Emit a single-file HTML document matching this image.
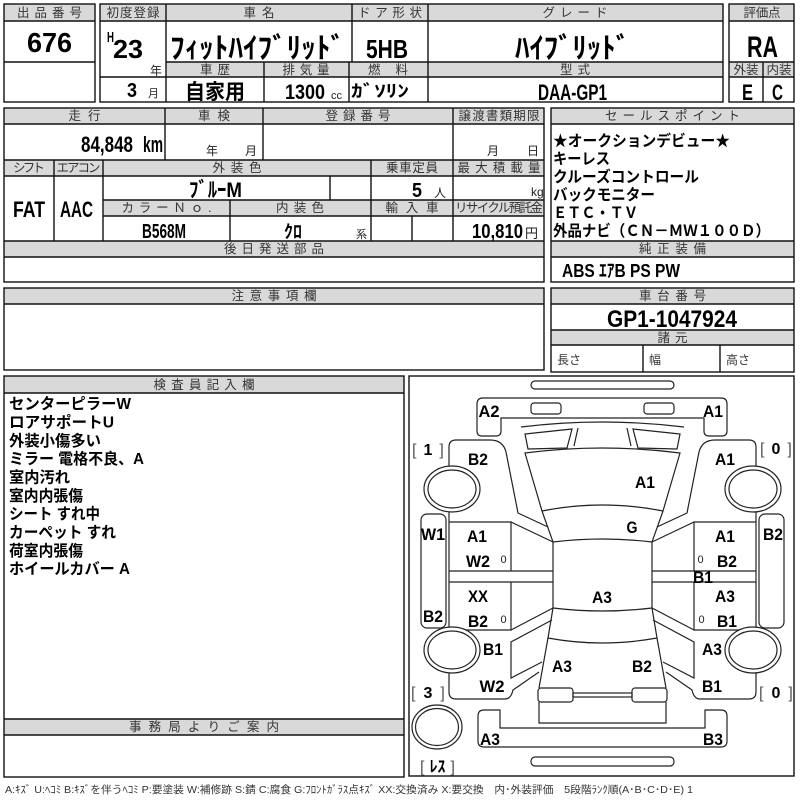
<!DOCTYPE html>
<html><head><meta charset="utf-8"><style>
html,body{margin:0;padding:0;background:#fff;}
svg{display:block}
text{font-family:"Liberation Sans","Noto Sans CJK JP",sans-serif;}
.h{font-size:12.5px;fill:#333;text-anchor:middle}
.b{font-weight:bold;fill:#000}
.ln{stroke:#111;stroke-width:1.4;fill:none}
.hd{fill:#d9d9d9}
.d{stroke:#222;stroke-width:1.2;fill:none}
.w{stroke:#222;stroke-width:1.2;fill:#fff}
.lb{font-weight:bold;font-size:17px;text-anchor:middle;fill:#000}
.z{font-size:11px;fill:#222;text-anchor:middle}
.br{font-size:16px;fill:#000}
.t{font-size:15.5px;font-weight:bold;fill:#000}
</style></head><body>
<svg xmlns="http://www.w3.org/2000/svg" width="800" height="800" viewBox="0 0 800 800">
<rect x="0" y="0" width="800" height="800" fill="#fff"/>

<!-- ===== TOP SECTION ===== -->
<rect class="hd" x="4" y="4" width="91" height="17"/>
<rect class="ln" x="4" y="4" width="91" height="98"/>
<path class="ln" d="M4 21H95M4 62H95"/>
<text class="h" x="49.5" y="17" textLength="65">出品番号</text>
<text class="b" x="49.5" y="52" font-size="28" text-anchor="middle" textLength="45" lengthAdjust="spacingAndGlyphs">676</text>

<rect class="hd" x="100" y="4" width="623" height="17"/>
<rect class="hd" x="166" y="62" width="557" height="15"/>
<rect class="ln" x="100" y="4" width="623" height="98"/>
<path class="ln" d="M100 21H723M166 62H723M100 77H723M166 4V102M352 4V62M349 62V102M428 4V102M264 62V102"/>
<text class="h" x="133" y="17" textLength="53">初度登録</text>
<text class="h" x="259" y="17" textLength="31">車 名</text>
<text class="h" x="390" y="17" textLength="64">ドア形状</text>
<text class="h" x="575" y="17" textLength="65">グ レ ー ド</text>
<text class="h" x="215" y="74" textLength="30">車 歴</text>
<text class="h" x="306" y="74" textLength="47">排 気 量</text>
<text class="h" x="388" y="74" textLength="40">燃 料</text>
<text class="h" x="575" y="74" textLength="30">型 式</text>

<text class="b" x="107" y="42" font-size="15" textLength="7" lengthAdjust="spacingAndGlyphs">H</text>
<text class="b" x="113" y="58" font-size="26" textLength="30" lengthAdjust="spacingAndGlyphs">23</text>
<text x="150" y="75" font-size="12" fill="#222">年</text>
<text class="b" x="127" y="97" font-size="20" textLength="10" lengthAdjust="spacingAndGlyphs">3</text>
<text x="148" y="97" font-size="11" fill="#222">月</text>
<text class="b" x="170" y="58" font-size="29" textLength="175" lengthAdjust="spacingAndGlyphs">ﾌｨｯﾄﾊｲﾌﾞﾘｯﾄﾞ</text>
<text class="b" x="366" y="58" font-size="26" textLength="42" lengthAdjust="spacingAndGlyphs">5HB</text>
<text class="b" x="515" y="58" font-size="29" textLength="115" lengthAdjust="spacingAndGlyphs">ﾊｲﾌﾞﾘｯﾄﾞ</text>
<text class="b" x="185" y="99" font-size="21" textLength="60" lengthAdjust="spacingAndGlyphs">自家用</text>
<text class="b" x="285" y="99" font-size="21" textLength="40" lengthAdjust="spacingAndGlyphs">1300</text>
<text x="331" y="99" font-size="11" fill="#222">cc</text>
<text class="b" x="351" y="97" font-size="17" textLength="58" lengthAdjust="spacingAndGlyphs">ｶﾞｿﾘﾝ</text>
<text class="b" x="538" y="100" font-size="22" textLength="69" lengthAdjust="spacingAndGlyphs">DAA-GP1</text>

<rect class="hd" x="729" y="4" width="65" height="17"/>
<rect class="hd" x="729" y="62" width="65" height="15"/>
<rect class="ln" x="729" y="4" width="65" height="98"/>
<path class="ln" d="M729 21H794M729 62H794M729 77H794M763 62V102"/>
<text class="h" x="762" y="17" textLength="37">評価点</text>
<text class="h" x="746" y="74" textLength="25">外装</text>
<text class="h" x="779" y="74" textLength="25">内装</text>
<text class="b" x="747" y="57" font-size="30" textLength="31" lengthAdjust="spacingAndGlyphs">RA</text>
<text class="b" x="742" y="100" font-size="22" textLength="11" lengthAdjust="spacingAndGlyphs">E</text>
<text class="b" x="772" y="100" font-size="22" textLength="11" lengthAdjust="spacingAndGlyphs">C</text>

<!-- ===== SECTION 2 ===== -->
<rect class="hd" x="4" y="108" width="540" height="16"/>
<rect class="hd" x="4" y="160" width="540" height="16"/>
<rect class="hd" x="103" y="200" width="441" height="16"/>
<rect class="hd" x="4" y="241" width="540" height="16"/>
<rect class="ln" x="4" y="108" width="540" height="174"/>
<path class="ln" d="M4 124H544M4 160H544M4 176H544M103 200H544M103 216H544M4 241H544M4 257H544M165 108V160M263 108V160M453 108V241M54 160V241M103 160V241M371 160V241M330 176V200M230 200V241M412 216V241"/>
<text class="h" x="84.5" y="120" textLength="32">走 行</text>
<text class="h" x="214" y="120" textLength="32">車 検</text>
<text class="h" x="358" y="120" textLength="65">登 録 番 号</text>
<text class="h" x="499" y="120" textLength="81">譲渡書類期限</text>
<text class="b" x="81" y="152" font-size="22" textLength="52" lengthAdjust="spacingAndGlyphs">84,848</text>
<text class="b" x="143" y="152" font-size="22" textLength="20" lengthAdjust="spacingAndGlyphs">km</text>
<text x="206" y="155" font-size="12" fill="#222">年</text>
<text x="245" y="155" font-size="12" fill="#222">月</text>
<text x="487" y="155" font-size="12" fill="#222">月</text>
<text x="527" y="155" font-size="12" fill="#222">日</text>

<text class="h" x="29" y="172" textLength="32">シフト</text>
<text class="h" x="78.5" y="172" textLength="44">エアコン</text>
<text class="h" x="237" y="172" textLength="49">外 装 色</text>
<text class="h" x="412" y="172" textLength="52">乗車定員</text>
<text class="h" x="499" y="172" textLength="83">最大積載量</text>
<text class="b" x="13" y="217" font-size="22" textLength="32" lengthAdjust="spacingAndGlyphs">FAT</text>
<text class="b" x="60" y="217" font-size="22" textLength="33" lengthAdjust="spacingAndGlyphs">AAC</text>
<text class="b" x="189" y="197" font-size="21" textLength="53" lengthAdjust="spacingAndGlyphs">ﾌﾞﾙｰM</text>
<text class="b" x="412" y="197" font-size="20" textLength="10" lengthAdjust="spacingAndGlyphs">5</text>
<text x="434" y="197" font-size="12" fill="#222">人</text>
<text x="531" y="196" font-size="12" fill="#222">kg</text>

<text class="h" x="166.5" y="212" textLength="90">カ ラ ー Ｎ ｏ .</text>
<text class="h" x="300" y="212" textLength="48">内 装 色</text>
<text class="h" x="412" y="212" textLength="53">輸 入 車</text>
<text class="h" x="499" y="212" textLength="88">リサイクル預託金</text>
<text class="b" x="142" y="238" font-size="20" textLength="44" lengthAdjust="spacingAndGlyphs">B568M</text>
<text class="b" x="284" y="238" font-size="18" textLength="18" lengthAdjust="spacingAndGlyphs">ｸﾛ</text>
<text x="356" y="238" font-size="11" fill="#222">系</text>
<text class="b" x="472" y="238" font-size="20" textLength="51" lengthAdjust="spacingAndGlyphs">10,810</text>
<text x="525" y="238" font-size="13" fill="#222">円</text>
<text class="h" x="274" y="253" textLength="100">後 日 発 送 部 品</text>

<!-- ===== SECTION 3 ===== -->
<rect class="hd" x="4" y="288" width="540" height="16"/>
<rect class="ln" x="4" y="288" width="540" height="82"/>
<path class="ln" d="M4 304H544"/>
<text class="h" x="274" y="300" textLength="85">注 意 事 項 欄</text>

<!-- ===== SECTION 4 LEFT ===== -->
<rect class="hd" x="4" y="376" width="400" height="17"/>
<rect class="hd" x="4" y="719" width="400" height="16"/>
<rect class="ln" x="4" y="376" width="400" height="401"/>
<path class="ln" d="M4 393H404M4 719H404M4 735H404"/>
<text class="h" x="204" y="389" textLength="101">検 査 員 記 入 欄</text>
<text class="h" x="204" y="731" textLength="150">事 務 局 よ り ご 案 内</text>
<text class="t" x="9" y="409" textLength="122" lengthAdjust="spacingAndGlyphs">センターピラーW</text>
<text class="t" x="9" y="427.5" textLength="105" lengthAdjust="spacingAndGlyphs">ロアサポートU</text>
<text class="t" x="9" y="446" textLength="92" lengthAdjust="spacingAndGlyphs">外装小傷多い</text>
<text class="t" x="9" y="464" textLength="135" lengthAdjust="spacingAndGlyphs">ミラー 電格不良、A</text>
<text class="t" x="9" y="482.5" textLength="61" lengthAdjust="spacingAndGlyphs">室内汚れ</text>
<text class="t" x="9" y="501" textLength="74" lengthAdjust="spacingAndGlyphs">室内内張傷</text>
<text class="t" x="9" y="519" textLength="91" lengthAdjust="spacingAndGlyphs">シート すれ中</text>
<text class="t" x="9" y="537.5" textLength="107" lengthAdjust="spacingAndGlyphs">カーペット すれ</text>
<text class="t" x="9" y="556" textLength="74" lengthAdjust="spacingAndGlyphs">荷室内張傷</text>
<text class="t" x="9" y="574" textLength="121" lengthAdjust="spacingAndGlyphs">ホイールカバー A</text>

<!-- ===== RIGHT COLUMN ===== -->
<rect class="hd" x="551" y="108" width="243" height="16"/>
<rect class="hd" x="551" y="241" width="243" height="16"/>
<rect class="ln" x="551" y="108" width="243" height="174"/>
<path class="ln" d="M551 124H794M551 241H794M551 257H794"/>
<text class="h" x="672.5" y="120" textLength="135">セ ー ル ス ポ イ ン ト</text>
<text class="h" x="672.5" y="253" textLength="67">純 正 装 備</text>
<text class="t" x="553" y="146" font-size="16" textLength="177" lengthAdjust="spacingAndGlyphs">★オークションデビュー★</text>
<text class="t" x="553" y="164" font-size="16" textLength="57" lengthAdjust="spacingAndGlyphs">キーレス</text>
<text class="t" x="553" y="182" font-size="16" textLength="146" lengthAdjust="spacingAndGlyphs">クルーズコントロール</text>
<text class="t" x="553" y="200" font-size="16" textLength="102" lengthAdjust="spacingAndGlyphs">バックモニター</text>
<text class="t" x="553" y="218" font-size="16" textLength="85" lengthAdjust="spacingAndGlyphs">ＥＴＣ・ＴＶ</text>
<text class="t" x="553" y="236" font-size="16" textLength="217" lengthAdjust="spacingAndGlyphs">外品ナビ（ＣＮ－ＭＷ１００Ｄ）</text>
<text class="b" x="562" y="277" font-size="18" textLength="118" lengthAdjust="spacingAndGlyphs">ABS ｴｱB PS PW</text>

<rect class="hd" x="551" y="288" width="243" height="16"/>
<rect class="hd" x="551" y="330" width="243" height="15"/>
<rect class="ln" x="551" y="288" width="243" height="84"/>
<path class="ln" d="M551 304H794M551 330H794M551 345H794M643 345V372M720 345V372"/>
<text class="h" x="672.5" y="300" textLength="67">車 台 番 号</text>
<text class="h" x="672.5" y="342" textLength="30">諸 元</text>
<text class="b" x="672" y="327" font-size="24" text-anchor="middle" textLength="130" lengthAdjust="spacingAndGlyphs">GP1-1047924</text>
<text x="557" y="364" font-size="12" fill="#333">長さ</text>
<text x="649" y="364" font-size="12" fill="#333">幅</text>
<text x="726" y="364" font-size="12" fill="#333">高さ</text>

<!-- ===== CAR DIAGRAM ===== -->
<rect class="ln" x="409" y="376" width="385" height="400"/>
<g class="d">
<rect x="531" y="381" width="143" height="8" rx="4"/>
<path d="M477 404Q477 398 483 398H721Q727 398 727 404V431Q727 436 722 436H709Q704 436 704 431V418H501V431Q501 436 496 436H482Q477 436 477 431Z"/>
<rect x="531" y="403" width="30" height="11" rx="3"/>
<rect x="644" y="403" width="30" height="11" rx="3"/>
<path d="M521 427Q602 417 684 427"/>
<path d="M525 434L572 429L567 448L528 449Z"/>
<path d="M680 434L633 429L638 448L677 449Z"/>
<path d="M578 428L574 446M627 428L631 446"/>
<path d="M525 453Q602 443 680 453L663 511Q602 499 542 511Z"/>
<path d="M542 511L553 542Q602 536 652 542L663 511"/>
<path d="M553 542V608M652 542V608"/>
<path d="M553 608Q602 614 652 608"/>
<path d="M553 608L548 638Q602 648 657 638L652 608"/>
<path d="M548 638L539 688M657 638L666 688"/>
<rect x="538" y="688" width="35" height="14" rx="3"/>
<rect x="632" y="688" width="35" height="14" rx="3"/>
<rect x="573" y="693" width="59" height="4"/>
<path d="M539 702V723H666V702"/>
<path d="M478 716Q478 710 484 710H500V728H705V710H721Q727 710 727 716V741Q727 747 721 747H484Q478 747 478 741Z"/>
<rect x="531" y="757" width="143" height="9" rx="4"/>
</g>
<g id="side">
<g class="d">
<path d="M449 522V447Q449 440 456 440H490Q503 440 506 452L518 513L548 527"/>
<path d="M511 522L553 542"/>
<path d="M449 522H511V571"/>
<path d="M449 571H553M449 582H553"/>
<path d="M449 522V630"/>
<path d="M511 582V630H449"/>
<path d="M511 630L553 608"/>
<path d="M449 630V692Q449 699 456 699H505Q511 699 513 690L539 672"/>
<path d="M552 620L511 642V678L542 662"/>
<rect x="421" y="514" width="25" height="114" rx="6"/>
</g>
<ellipse class="w" cx="452" cy="489" rx="28" ry="23"/>
<ellipse class="d" cx="452" cy="489" rx="24" ry="19"/>
<ellipse class="w" cx="452" cy="650" rx="28" ry="23"/>
<ellipse class="d" cx="452" cy="650" rx="24" ry="19"/>
</g>
<g transform="matrix(-1 0 0 1 1205 0)">
<g class="d">
<path d="M449 522V447Q449 440 456 440H490Q503 440 506 452L518 513L548 527"/>
<path d="M511 522L553 542"/>
<path d="M449 522H511V571"/>
<path d="M449 571H553M449 582H553"/>
<path d="M449 522V630"/>
<path d="M511 582V630H449"/>
<path d="M511 630L553 608"/>
<path d="M449 630V692Q449 699 456 699H505Q511 699 513 690L539 672"/>
<path d="M552 620L511 642V678L542 662"/>
<rect x="421" y="514" width="25" height="114" rx="6"/>
</g>
<ellipse class="w" cx="452" cy="489" rx="28" ry="23"/>
<ellipse class="d" cx="452" cy="489" rx="24" ry="19"/>
<ellipse class="w" cx="452" cy="650" rx="28" ry="23"/>
<ellipse class="d" cx="452" cy="650" rx="24" ry="19"/>
</g>
<ellipse class="w" cx="437" cy="727" rx="25" ry="22"/>
<ellipse class="d" cx="437" cy="727" rx="21.5" ry="18.5"/>

<!-- diagram labels -->
<g>
<text class="lb" x="489" y="417" textLength="21" lengthAdjust="spacingAndGlyphs">A2</text>
<text class="lb" x="713" y="417" textLength="20" lengthAdjust="spacingAndGlyphs">A1</text>
<text class="lb" x="478" y="465" textLength="20" lengthAdjust="spacingAndGlyphs">B2</text>
<text class="lb" x="725" y="465" textLength="20" lengthAdjust="spacingAndGlyphs">A1</text>
<text class="lb" x="645" y="488" textLength="20" lengthAdjust="spacingAndGlyphs">A1</text>
<text class="lb" x="632" y="533" textLength="11" lengthAdjust="spacingAndGlyphs">G</text>
<text class="lb" x="433" y="540" textLength="24" lengthAdjust="spacingAndGlyphs">W1</text>
<text class="lb" x="477" y="542" textLength="20" lengthAdjust="spacingAndGlyphs">A1</text>
<text class="lb" x="725" y="542" textLength="20" lengthAdjust="spacingAndGlyphs">A1</text>
<text class="lb" x="773" y="540" textLength="20" lengthAdjust="spacingAndGlyphs">B2</text>
<text class="lb" x="478" y="567" textLength="24" lengthAdjust="spacingAndGlyphs">W2</text>
<text class="z" x="503.5" y="563">0</text>
<text class="z" x="700.5" y="563">0</text>
<text class="lb" x="727" y="567" textLength="20" lengthAdjust="spacingAndGlyphs">B2</text>
<text class="lb" x="703" y="583" textLength="20" lengthAdjust="spacingAndGlyphs">B1</text>
<text class="lb" x="478" y="602" textLength="20" lengthAdjust="spacingAndGlyphs">XX</text>
<text class="lb" x="602" y="603" textLength="20" lengthAdjust="spacingAndGlyphs">A3</text>
<text class="lb" x="725" y="602" textLength="20" lengthAdjust="spacingAndGlyphs">A3</text>
<text class="lb" x="433" y="622" textLength="20" lengthAdjust="spacingAndGlyphs">B2</text>
<text class="lb" x="478" y="627" textLength="20" lengthAdjust="spacingAndGlyphs">B2</text>
<text class="z" x="503.5" y="623">0</text>
<text class="z" x="701.5" y="623">0</text>
<text class="lb" x="727" y="627" textLength="20" lengthAdjust="spacingAndGlyphs">B1</text>
<text class="lb" x="493" y="655" textLength="20" lengthAdjust="spacingAndGlyphs">B1</text>
<text class="lb" x="712" y="655" textLength="20" lengthAdjust="spacingAndGlyphs">A3</text>
<text class="lb" x="562" y="672" textLength="20" lengthAdjust="spacingAndGlyphs">A3</text>
<text class="lb" x="642" y="672" textLength="20" lengthAdjust="spacingAndGlyphs">B2</text>
<text class="lb" x="492" y="692" textLength="25" lengthAdjust="spacingAndGlyphs">W2</text>
<text class="lb" x="712" y="692" textLength="20" lengthAdjust="spacingAndGlyphs">B1</text>
<text class="lb" x="490" y="745" textLength="20" lengthAdjust="spacingAndGlyphs">A3</text>
<text class="lb" x="713" y="745" textLength="20" lengthAdjust="spacingAndGlyphs">B3</text>
</g>
<text class="br" x="412" y="455"><tspan fill="#555">[</tspan><tspan font-weight="bold" dx="7">1</tspan><tspan fill="#555" dx="7">]</tspan></text>
<text class="br" x="760" y="454"><tspan fill="#555">[</tspan><tspan font-weight="bold" dx="7">0</tspan><tspan fill="#555" dx="7">]</tspan></text>
<text class="br" x="411" y="698"><tspan fill="#555">[</tspan><tspan font-weight="bold" dx="8">3</tspan><tspan fill="#555" dx="8">]</tspan></text>
<text class="br" x="759" y="698"><tspan fill="#555">[</tspan><tspan font-weight="bold" dx="8">0</tspan><tspan fill="#555" dx="8">]</tspan></text>
<text class="br" x="420" y="772"><tspan fill="#555">[</tspan><tspan font-weight="bold" dx="5">ﾚｽ</tspan><tspan fill="#555" dx="5">]</tspan></text>

<!-- legend -->
<text x="5" y="793" font-size="10.5" fill="#333" textLength="688" lengthAdjust="spacingAndGlyphs">A:ｷｽﾞ U:ﾍｺﾐ B:ｷｽﾞを伴うﾍｺﾐ P:要塗装 W:補修跡 S:錆 C:腐食 G:ﾌﾛﾝﾄｶﾞﾗｽ点ｷｽﾞ XX:交換済み X:要交換　内･外装評価　5段階ﾗﾝｸ順(A･B･C･D･E) 1</text>
</svg>
</body></html>
